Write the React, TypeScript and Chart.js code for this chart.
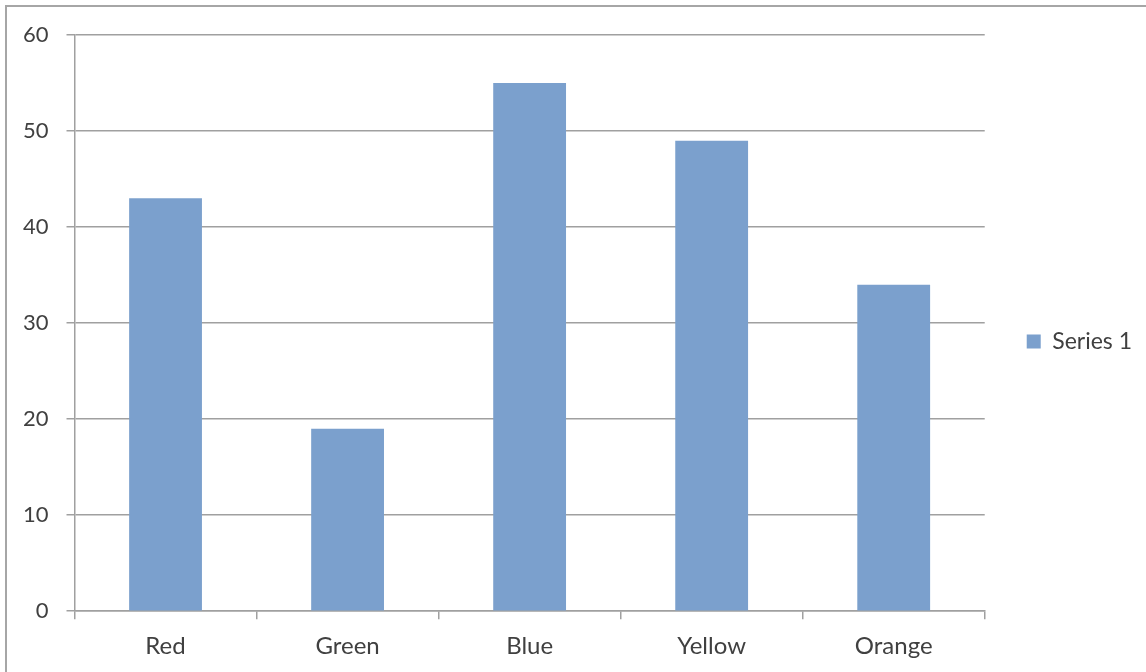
import React, { useEffect, useRef } from "react";
import { Chart, registerables } from "chart.js";

Chart.register(...registerables);

const categories = ["Red", "Green", "Blue", "Yellow", "Orange"];
const series1 = [43, 19, 55, 49, 34];
const seriesName = "Series 1";
const yTicks = { min: 0, max: 60, step: 10 };

const FONT = "Lato, 'Open Sans', sans-serif";
const TEXT = "#404040";
const GRID = "#a0a0a0";

const frame = {
  id: "frame",
  beforeDraw(chart: any) {
    const { ctx } = chart;
    ctx.save();
    ctx.strokeStyle = "#a6a6a6";
    ctx.lineWidth = 2;
    ctx.beginPath();
    ctx.moveTo(6, chart.height);
    ctx.lineTo(6, 6);
    ctx.lineTo(chart.width, 6);
    ctx.stroke();
    ctx.restore();
  },
};

export default function App() {
  const ref = useRef<HTMLCanvasElement>(null);
  useEffect(() => {
    if (!ref.current) return;
    const chart = new Chart(ref.current, {
      type: "bar",
      data: {
        labels: categories,
        datasets: [
          {
            label: seriesName,
            data: series1,
            backgroundColor: "#7ba0cd",
            borderWidth: 0,
            barPercentage: 0.4,
            categoryPercentage: 1,
          },
        ],
      },
      options: {
        animation: false,
        responsive: false,
        layout: { padding: { left: 5, top: 35, right: 4, bottom: -2 } },
        plugins: {
          tooltip: { enabled: false },
          legend: {
            position: "right",
            fullSize: false,
            title: {
              display: true,
              text: "",
              font: { size: 12, lineHeight: 1 },
              padding: { top: 0, bottom: 25 },
            },
            labels: {
              boxWidth: 14,
              boxHeight: 14,
              padding: 42,
              color: TEXT,
              font: { family: FONT, size: 23 },
            },
          },
        },
        scales: {
          x: {
            grid: {
              offset: true,
              drawOnChartArea: false,
              drawTicks: true,
              tickLength: 8,
              color: GRID,
              lineWidth: 1.5,
            },
            border: { color: GRID, width: 1.5 },
            ticks: { color: TEXT, font: { family: FONT, size: 24 }, padding: 13 },
          },
          y: {
            min: yTicks.min,
            max: yTicks.max,
            ticks: {
              stepSize: yTicks.step,
              color: TEXT,
              font: { family: FONT, size: 22 },
              padding: 18,
            },
            grid: { color: GRID, lineWidth: 1.5, tickLength: 8 },
            border: { color: GRID, width: 1.5 },
          },
        },
      },
      plugins: [frame],
    });
    return () => chart.destroy();
  }, []);
  return (
    <canvas
      ref={ref}
      width={1146}
      height={672}
      style={{ position: "absolute", left: 0, top: 0, width: 1146, height: 672 }}
    />
  );
}
